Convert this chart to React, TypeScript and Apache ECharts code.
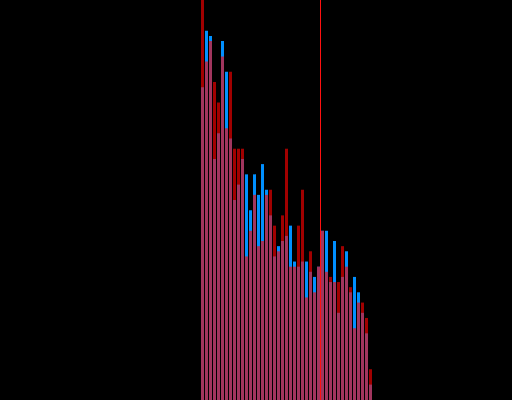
import React, { useEffect, useRef } from "react";
import * as echarts from "echarts";

const blueValues = [61, 72, 71, 47, 52, 70, 64, 51, 39, 42, 47, 44, 37, 44, 40, 46, 41, 36, 28, 30, 31, 32, 34, 27, 26, 27, 27, 25, 24, 26, 33, 33, 23, 31, 17, 24, 29, 21, 24, 21, 17, 13, 3];
const redValues = [85, 66, 70, 62, 58, 67, 53, 64, 49, 49, 49, 28, 33, 40, 30, 31, 40, 41, 34, 29, 36, 49, 26, 26, 34, 41, 20, 29, 21, 26, 33, 25, 24, 23, 23, 30, 26, 22, 14, 19, 19, 16, 6];
const markerPosition = 29.5;
const yMax = 78;

export default function App() {
  const ref = useRef<HTMLDivElement>(null);
  useEffect(() => {
    if (!ref.current) return;
    const chart = echarts.init(ref.current, null, { renderer: "svg" });
    const n = blueValues.length;
    chart.setOption({
      animation: false,
      backgroundColor: "#000000",
      grid: { left: 200.5, width: n * 4, top: 0, bottom: 0, containLabel: false },
      xAxis: {
        type: "value",
        min: -0.5,
        max: n - 0.5,
        show: false,
        splitLine: { show: false },
      },
      yAxis: { type: "value", min: 0, max: yMax, show: false, splitLine: { show: false } },
      series: [
        {
          type: "bar",
          data: blueValues.map((v, i) => [i, v]),
          barWidth: 3,
          barGap: "-100%",
          clip: true,
          itemStyle: { color: "#0090ff" },
          markLine: {
            silent: true,
            symbol: "none",
            label: { show: false },
            lineStyle: { color: "#ff1010", width: 1, type: "solid", opacity: 1 },
            data: [{ xAxis: markerPosition }],
          },
        },
        {
          type: "bar",
          data: redValues.map((v, i) => [i, v]),
          barWidth: 3,
          barGap: "-100%",
          clip: true,
          itemStyle: { color: "#ff0000", opacity: 0.63 },
        },
      ],
    });
    return () => chart.dispose();
  }, []);
  return <div ref={ref} style={{ position: "fixed", left: 0, top: 0, width: 512, height: 400 }} />;
}
